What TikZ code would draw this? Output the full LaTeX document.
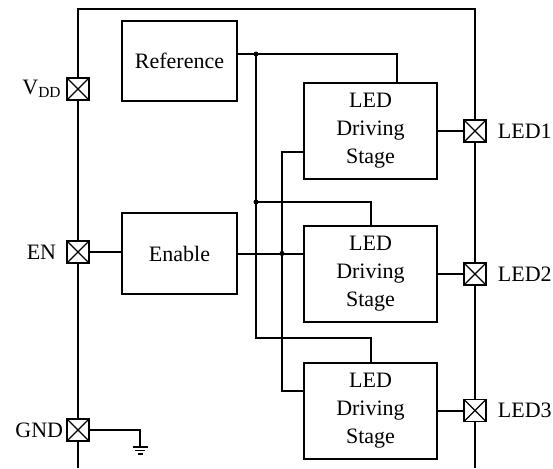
\documentclass[tikz,border=0pt]{standalone}
\usepackage{fontspec}
\setmainfont{Liberation Serif}
\usetikzlibrary{calc,positioning}

\begin{document}
\begin{tikzpicture}[x=1pt,y=-1pt,line width=2pt,
 font=\fontsize{22}{28}\selectfont,
 blk/.style={draw,inner sep=0pt,align=center},
 pad/.style={draw,fill=white,minimum size=22pt,inner sep=0pt,line width=1.8pt,
  path picture={\draw[line width=1.2pt] (path picture bounding box.north west)--(path picture bounding box.south east)
   (path picture bounding box.north east)--(path picture bounding box.south west);}},
 lbl/.style={inner sep=0pt},
 dot/.style={circle,fill,inner sep=0pt,minimum size=5pt}]
\useasboundingbox (0,0) rectangle (553,468);
% chip outline
\draw (78,468) -- (78,9) -- (475,9) -- (475,468);
% blocks
\node[blk,minimum width=115pt,minimum height=80pt] (ref) at (179.5,61) {Reference};
\node[blk,minimum width=115pt,minimum height=81pt] (enb) at (179.5,253.5) {Enable};
\foreach \n/\y in {1/131,2/274,3/410.5}{
 \node[blk,minimum width=133pt,minimum height=96pt] (drv\n) at (370.5,\y) {LED\\Driving\\Stage};
 \node[pad] (out\n) at (475,\y) {};
 \node[lbl,right=10pt of out\n] (led\n) {LED\n};
 \draw (drv\n.east) -- (out\n);
}
% left pads
\node[pad] (pvdd) at (78,89) {};
\node[pad] (pen) at (78,252) {};
\node[pad] (pgnd) at (78,430) {};
\node[lbl,left=4pt of pvdd] (tvdd) {V\textsubscript{DD}};
\node[lbl,left=9pt of pen] (ten) {EN};
\node[lbl,left=2pt of pgnd] (tgnd) {GND};
% reference bus
\coordinate (ja) at (256,54);
\coordinate (jb) at (256,202);
\coordinate (jc) at (256,338);
\draw (ref.east |- ja) -- (ja) -| ($(drv1.north)+(26.5,0)$);
\draw (ja) -- (jc) -| (drv3.north);
\draw (jb) -| (drv2.north);
\node[dot] at (ja) {};
\node[dot] at (jb) {};
% enable bus
\coordinate (ea) at (282,152);
\coordinate (eb) at (282,253.5);
\coordinate (ec) at (282,391);
\draw (pen) -- (pen -| enb.west);
\draw (enb.east) -- (enb.east -| drv2.west);
\draw ($(drv1.west)+(0,21)$) -- (ea) -- (ec) -- ($(drv3.west)+(0,-19.5)$);
\node[dot] at (eb) {};
% ground
\coordinate (g) at (140,447);
\draw (pgnd) -- (pgnd -| g) -- (g);
\draw[line width=1.4pt] ([xshift=-7.5pt]g) -- ([xshift=7.5pt]g)
 ([xshift=-5pt,yshift=-3.5pt]g) -- ([xshift=5pt,yshift=-3.5pt]g)
 ([xshift=-2.5pt,yshift=-7pt]g) -- ([xshift=2.5pt,yshift=-7pt]g);
\end{tikzpicture}
\end{document}
